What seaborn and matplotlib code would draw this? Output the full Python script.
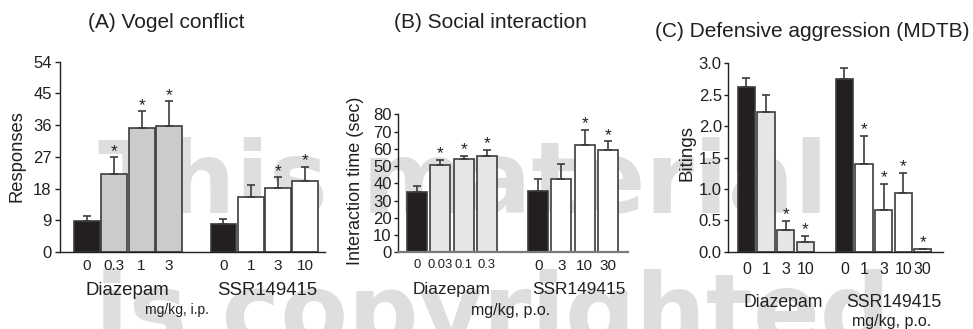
import numpy as np
import pandas as pd
import matplotlib
matplotlib.use('Agg')
import matplotlib.pyplot as plt
import seaborn as sns

# ---- data ----
# (A) Vogel conflict
vogel_diaz_doses = ['0', '0.3', '1', '3']
vogel_ssr_doses = ['0', '1', '3', '10']
vogel_diaz_mean = [8.9, 22.0, 35.1, 35.7]
vogel_diaz_sem = [1.3, 4.9, 4.8, 7.1]
vogel_ssr_mean = [8.0, 15.7, 18.2, 20.2]
vogel_ssr_sem = [1.3, 3.4, 3.0, 4.0]
vogel_diaz_sig = [1, 2, 3]
vogel_ssr_sig = [2, 3]
vogel_yticks = [0, 9, 18, 27, 36, 45, 54]

# (B) Social interaction
social_diaz_doses = ['0', '0.03', '0.1', '0.3']
social_ssr_doses = ['0', '3', '10', '30']
social_diaz_mean = [35.2, 50.6, 53.9, 56.0]
social_diaz_sem = [3.4, 2.9, 2.1, 3.3]
social_ssr_mean = [35.7, 42.7, 62.4, 59.1]
social_ssr_sem = [6.6, 8.3, 8.5, 5.4]
social_diaz_sig = [1, 2, 3]
social_ssr_sig = [2, 3]
social_yticks = [0, 10, 20, 30, 40, 50, 60, 70, 80]

# (C) Defensive aggression (MDTB)
mdtb_diaz_doses = ['0', '1', '3', '10']
mdtb_ssr_doses = ['0', '1', '3', '10', '30']
mdtb_diaz_mean = [2.62, 2.22, 0.34, 0.15]
mdtb_diaz_sem = [0.14, 0.27, 0.15, 0.10]
mdtb_ssr_mean = [2.75, 1.40, 0.67, 0.93, 0.05]
mdtb_ssr_sem = [0.17, 0.45, 0.41, 0.33, 0.0]
mdtb_diaz_sig = [2, 3]
mdtb_ssr_sig = [1, 2, 3, 4]
mdtb_yticks = [0.0, 0.5, 1.0, 1.5, 2.0, 2.5, 3.0]
mdtb_yticklabels = ['0.0', '0.5', '1.0', '1.5', '2.0', '2.5', '3.0']

sns.set_style('ticks')
plt.rcParams['font.family'] = ['Liberation Sans', 'DejaVu Sans']
plt.rcParams['text.color'] = '#231f20'

W, H = 973, 329
INK = '#231f20'
EDGE = '#3c3c3c'
BLACK_BAR = '#231f20'


def box(left, right, top, bottom):
    return [left / W, 1 - bottom / H, (right - left) / W, (bottom - top) / H]


def panel(ax, diaz_doses, ssr_doses, diaz_mean, diaz_sem, ssr_mean, ssr_sem,
          diaz_sig, ssr_sig, diaz_color, gap, width, xlim):
    n1, n2 = len(diaz_doses), len(ssr_doses)
    xs = [float(i) for i in range(n1)] + [n1 + gap + i for i in range(n2)]
    means = list(diaz_mean) + list(ssr_mean)
    sems = list(diaz_sem) + list(ssr_sem)
    keys = ['d' + d for d in diaz_doses] + ['s' + d for d in ssr_doses]
    colors = [BLACK_BAR] + [diaz_color] * (n1 - 1) + [BLACK_BAR] + ['white'] * (n2 - 1)
    df = pd.DataFrame({'pos': xs, 'value': means, 'key': keys})
    sns.barplot(data=df, x='pos', y='value', hue='key', palette=dict(zip(keys, colors)),
                native_scale=True, width=width, errorbar=None, dodge=False,
                saturation=1, edgecolor=EDGE, linewidth=1.2, legend=False, ax=ax)
    ax.errorbar(xs, means, yerr=[np.zeros(len(xs)), sems], fmt='none', ecolor=EDGE,
                elinewidth=1.2, capsize=2.8, capthick=1.2, zorder=3)
    tops = np.array(means) + np.array(sems)
    for i in list(diaz_sig) + [n1 + j for j in ssr_sig]:
        ax.annotate('*', xy=(xs[i], tops[i]), xytext=(0, 1), textcoords='offset points',
                    ha='center', va='baseline', fontsize=12.5, color=INK)
    ax.set_xticks(xs)
    ax.set_xticklabels(list(diaz_doses) + list(ssr_doses))
    ax.set_xlim(*xlim)
    ax.set_xlabel('')
    ax.set_ylabel('')
    ax.set_facecolor('none')
    sns.despine(ax=ax)
    for s in ['left', 'bottom']:
        ax.spines[s].set_color(INK)
        ax.spines[s].set_linewidth(1.0)
    return xs


fig = plt.figure(figsize=(W / 100, H / 100), dpi=100)
fig.patch.set_facecolor('white')

# watermark behind the panels
wm = dict(fontsize=71, fontweight='bold', family='DejaVu Sans', color='#dedede',
          ha='left', va='baseline', zorder=-5)
fig.text(98 / W, 1 - 213 / H, 'This material', **wm)
fig.text(95 / W, 1 - 345 / H, 'is copyrighted', **wm)

# ---- (A) ----
axA = fig.add_axes(box(60, 325, 61.7, 252))
panel(axA, vogel_diaz_doses, vogel_ssr_doses, vogel_diaz_mean, vogel_diaz_sem,
      vogel_ssr_mean, vogel_ssr_sem, vogel_diaz_sig, vogel_ssr_sig,
      '#cbcbcb', 1, 0.95, (-0.99, 8.72))
axA.set_ylim(0, 54)
axA.set_yticks(vogel_yticks)
axA.tick_params(axis='y', direction='out', length=3.6, width=1, pad=2.4, labelsize=12, colors=INK)
axA.tick_params(axis='x', length=0, pad=4.7, labelsize=11, colors=INK)
tA = axA.get_xaxis_transform()
axA.text(1.49, -0.200, 'Diazepam', transform=tA, ha='center', va='center', fontsize=13.4)
axA.text(6.59, -0.200, 'SSR149415', transform=tA, ha='center', va='center', fontsize=13.4)
axA.text(3.28, -0.305, 'mg/kg, i.p.', transform=tA, ha='center', va='center', fontsize=10)
fig.text(17.5 / W, 1 - 156 / H, 'Responses', rotation=90, ha='center', va='center', fontsize=13.2)
fig.text(88 / W, 1 - 28 / H, '(A) Vogel conflict', ha='left', va='baseline', fontsize=15)

# ---- (B) ----
axB = fig.add_axes(box(398, 628, 114.3, 252.3))
panel(axB, social_diaz_doses, social_ssr_doses, social_diaz_mean, social_diaz_sem,
      social_ssr_mean, social_ssr_sem, social_diaz_sig, social_ssr_sig,
      '#e6e6e7', 1.2, 0.86, (-0.82, 9.06))
axB.set_ylim(0, 80)
axB.set_yticks(social_yticks)
axB.spines['bottom'].set_color('#7a7a7a')
axB.spines['bottom'].set_linewidth(1.6)
axB.tick_params(axis='y', direction='out', length=3, width=1, pad=1.5, labelsize=12, colors=INK)
axB.tick_params(axis='x', length=0, pad=4.5, labelsize=11, colors=INK)
for lab in axB.get_xticklabels()[:len(social_diaz_doses)]:
    lab.set_fontsize(9.4)
tB = axB.get_xaxis_transform()
axB.text(1.5, -0.266, 'Diazepam', transform=tB, ha='center', va='center', fontsize=12.4)
axB.text(6.95, -0.266, 'SSR149415', transform=tB, ha='center', va='center', fontsize=12.4)
axB.text(4.03, -0.425, 'mg/kg, p.o.', transform=tB, ha='center', va='center', fontsize=11.5)
fig.text(355 / W, 1 - 181 / H, 'Interaction time (sec)', rotation=90, ha='center', va='center',
         fontsize=13)
fig.text(490 / W, 1 - 28 / H, '(B) Social interaction', ha='center', va='baseline', fontsize=15)

# ---- (C) ----
axC = fig.add_axes(box(728, 943, 63.3, 251.7))
panel(axC, mdtb_diaz_doses, mdtb_ssr_doses, mdtb_diaz_mean, mdtb_diaz_sem,
      mdtb_ssr_mean, mdtb_ssr_sem, mdtb_diaz_sig, mdtb_ssr_sig,
      '#e6e6e7', 1, 0.87, (-0.94, 10.03))
axC.set_ylim(0, 3.0)
axC.set_yticks(mdtb_yticks)
axC.set_yticklabels(mdtb_yticklabels)
axC.tick_params(axis='y', direction='out', length=3, width=1, pad=1.5, labelsize=12, colors=INK)
axC.tick_params(axis='x', length=0, pad=7.2, labelsize=11.5, colors=INK)
tC = axC.get_xaxis_transform()
axC.text(1.86, -0.272, 'Diazepam', transform=tC, ha='center', va='center', fontsize=12.7)
axC.text(7.53, -0.272, 'SSR149415', transform=tC, ha='center', va='center', fontsize=12.7)
axC.text(7.42, -0.373, 'mg/kg, p.o.', transform=tC, ha='center', va='center', fontsize=11.5)
fig.text(687 / W, 1 - 153 / H, 'Bitings', rotation=90, ha='center', va='center', fontsize=13.5)
fig.text(655 / W, 1 - 37 / H, '(C) Defensive aggression (MDTB)', ha='left', va='baseline',
         fontsize=15)

fig.savefig('out.png', dpi=100)
plt.close(fig)
